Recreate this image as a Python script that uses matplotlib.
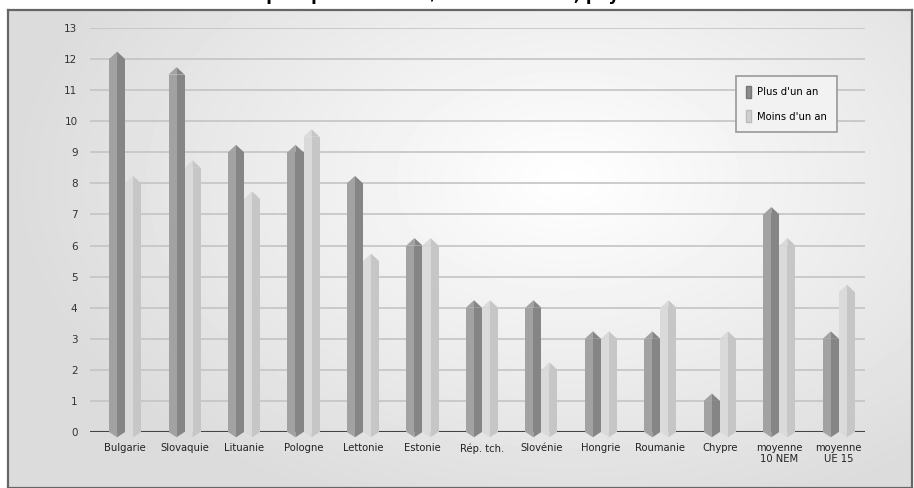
import numpy as np
import matplotlib.pyplot as plt
from matplotlib.patches import Polygon, Patch

pays = ['Bulgarie', 'Slovaquie', 'Lituanie', 'Pologne', 'Lettonie', 'Estonie',
        'Rép. tch.', 'Slovénie', 'Hongrie', 'Roumanie', 'Chypre',
        'moyenne\n10 NEM', 'moyenne\nUE 15']
plus_un_an = [12, 11.5, 9, 9, 8, 6, 4, 4, 3, 3, 1, 7, 3]
moins_un_an = [8, 8.5, 7.5, 9.5, 5.5, 6, 4, 2, 3, 4, 3, 6, 4.5]
yticks = list(range(0, 14))
titre = "depuis plus d'un an / moins d'un an, pays et UE"

fig = plt.figure(figsize=(9.14, 4.88), dpi=100)
fig.patch.set_facecolor('white')

# fond du cadre avec degrade
bg = fig.add_axes([8/914, 0, 904/914, 478/488])
yy, xx = np.mgrid[0:478, 0:904]
r = np.sqrt(((xx - 560) / 520.0) ** 2 + ((yy - 170) / 330.0) ** 2)
g = np.clip(1.0 - 0.13 * r, 0.86, 1.0)
bg.imshow(g, cmap='gray', vmin=0, vmax=1, aspect='auto', extent=[0, 904, 478, 0])
bg.set_xticks([])
bg.set_yticks([])
for s in bg.spines.values():
    s.set_color('#666666')
    s.set_linewidth(1.6)

fig.text(0.508, 0.999, titre, ha='center', va='baseline', fontsize=12,
         fontweight='bold', color='black')

ax = fig.add_axes([90/914, 56/488, 775/914, 404/488])
ax.set_facecolor('none')
x = np.arange(len(pays))
w = 0.27
cap = 0.24
tip = 0.17

series = [
    (plus_un_an, -w/2, '#a2a2a2', '#858585', "Plus d'un an"),
    (moins_un_an, w/2, '#dadada', '#c6c6c6', "Moins d'un an"),
]
for vals, off, c1, c2, lab in series:
    ax.bar(x + off - w/4, vals, w/2, color=c1, zorder=3)
    ax.bar(x + off + w/4, vals, w/2, color=c2, zorder=3)
    for xi, v in zip(x + off, vals):
        ax.add_patch(Polygon([(xi - w/2, v), (xi, v + cap), (xi, v)], closed=True,
                             facecolor=c1, edgecolor='none', zorder=3, clip_on=False))
        ax.add_patch(Polygon([(xi, v), (xi, v + cap), (xi + w/2, v)], closed=True,
                             facecolor=c2, edgecolor='none', zorder=3, clip_on=False))
        ax.add_patch(Polygon([(xi - w/2, 0), (xi, -tip), (xi, 0)], closed=True,
                             facecolor=c1, edgecolor='none', zorder=3, clip_on=False))
        ax.add_patch(Polygon([(xi, 0), (xi, -tip), (xi + w/2, 0)], closed=True,
                             facecolor=c2, edgecolor='none', zorder=3, clip_on=False))

ax.set_xlim(-0.59, 12.44)
ax.set_ylim(0, 13)
ax.set_yticks(yticks)
ax.grid(axis='y', color='#c4c4c4', linewidth=1.2, zorder=1)
ax.axhline(0, color='#444444', linewidth=1.5, zorder=2)
for s in ax.spines.values():
    s.set_visible(False)
ax.tick_params(axis='both', length=0)
ax.tick_params(axis='y', pad=9, labelsize=7.5, labelcolor='#333333')
ax.set_xticks(x)
ax.set_xticklabels(pays, fontsize=8, fontstretch='condensed',
                   color='#222222', linespacing=1.1)
ax.tick_params(axis='x', pad=8)

handles = [Patch(facecolor='#8c8c8c', edgecolor='#777777'),
           Patch(facecolor='#d0d0d0', edgecolor='#bbbbbb')]
leg = ax.legend(handles, [s[4] for s in series], loc='upper left',
                bbox_to_anchor=(730/914, 1 - 70/488), bbox_transform=fig.transFigure,
                frameon=True, fancybox=False, facecolor='#f2f2f2', edgecolor='#999999',
                framealpha=1, handlelength=0.5, handleheight=1.3, labelspacing=1.1,
                borderpad=0.9, handletextpad=0.5, prop={'size': 8, 'stretch': 'condensed'})
leg.get_frame().set_linewidth(1.2)

fig.savefig('out.png', dpi=100)
